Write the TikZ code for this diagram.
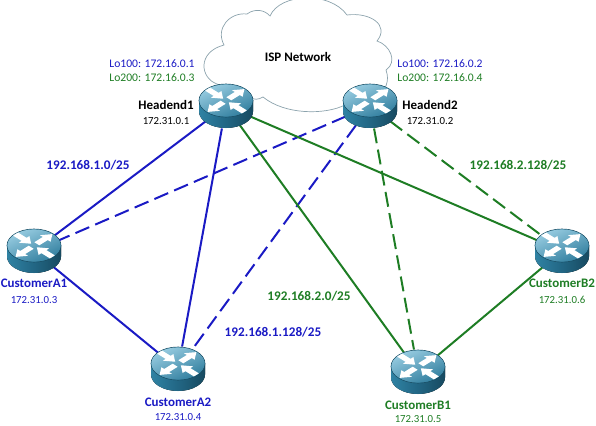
\documentclass[tikz,border=0pt]{standalone}
\usepackage{fontspec}
\setmainfont{Carlito}
\usepackage{xcolor}
\usetikzlibrary{positioning,shapes.geometric}
\definecolor{linkblue}{HTML}{1A1AC4}
\definecolor{linkgreen}{HTML}{1E7D24}
\definecolor{cloudline}{HTML}{8CA3AD}
\definecolor{routerbodyl}{HTML}{2F82A3}
\definecolor{routerbodym}{HTML}{226684}
\definecolor{routerbodyr}{HTML}{174A60}
\definecolor{routertopl}{HTML}{96CBE0}
\definecolor{routertopd}{HTML}{327F9F}
\tikzset{
  routernode/.style={ellipse,minimum width=54pt,minimum height=45pt,inner sep=0pt},
  bluelink/.style={draw=linkblue,line width=2pt},
  greenlink/.style={draw=linkgreen,line width=2pt},
  tunnel/.style={dash pattern=on 15pt off 6.5pt},
  namelabel/.style={font=\fontsize{13}{15}\selectfont\bfseries},
  addrlabel/.style={font=\fontsize{10.8}{12}\selectfont},
  looplabel/.style={font=\fontsize{11.6}{13}\selectfont},
  netlabel/.style={font=\fontsize{13.2}{15}\selectfont\bfseries},
  router/.pic={
    \fill[left color=routerbodyl,right color=routerbodyr,middle color=routerbodym]
      (-27,-5.5) -- (-27,5.5) .. controls (-27,14.6) and (-15,22) .. (0,22)
      .. controls (15,22) and (27,14.6) .. (27,5.5) -- (27,-5.5) -- cycle;
    \draw[routerbodyr,line width=0.6pt,fill=routertopd] (0,-5.5) ellipse[x radius=27,y radius=16.5];
    \shade[top color=routertopl,bottom color=routertopd,shading angle=25]
      (0,-5.5) ellipse[x radius=26.6,y radius=16.1];
    \foreach \ang/\dir in {45/1,135/-1,225/1,315/-1}{
      \begin{scope}[shift={(0,-5.5)},yscale=0.62,rotate=\ang]
        \ifnum\dir=1
          \fill[white] (4,-3.5) -- (16,-3.5) -- (16,-7.5) -- (26,0) -- (16,7.5) -- (16,3.5) -- (4,3.5) -- cycle;
        \else
          \fill[white] (26,-3.5) -- (14,-3.5) -- (14,-7.5) -- (4,0) -- (14,7.5) -- (14,3.5) -- (26,3.5) -- cycle;
        \fi
      \end{scope}
    }
  }
}
\begin{document}
\begin{tikzpicture}[x=1pt,y=-1pt]
  \useasboundingbox (0,0) rectangle (596,425);
  % cloud
  \draw[cloudline,fill=white,line width=0.7pt] (217,84) .. controls (200,78) and (197,52) .. (224,45)
    .. controls (215,28) and (230,12) .. (247,14)
    .. controls (255,8) and (265,10) .. (270,16)
    .. controls (280,-7) and (330,-9) .. (347,15)
    .. controls (370,12) and (390,25) .. (377,41)
    .. controls (390,45) and (398,62) .. (386,70)
    .. controls (388,76) and (388,80) .. (386,86)
    -- (345,105)
    .. controls (325,115) and (285,115) .. (263,97)
    .. controls (258,100) and (254,100) .. (250,97)
    -- cycle;
  \node[namelabel] (isp) at (298,57) {ISP Network};
  % routers
  \node[routernode] (h1) at (226,106) {};
  \node[routernode] (h2) at (370,106) {};
  \node[routernode] (a1) at (34,251) {};
  \node[routernode] (a2) at (178,369) {};
  \node[routernode] (b1) at (418,372) {};
  \node[routernode] (b2) at (562,251) {};
  % links
  \draw[bluelink] (h1) -- (a1);
  \draw[bluelink] (h1) -- (a2);
  \draw[bluelink] (a1) -- (a2);
  \draw[bluelink,tunnel] (h2) -- (a1);
  \draw[bluelink,tunnel] (h2) -- (a2);
  \draw[greenlink] (h1) -- (b1);
  \draw[greenlink] (h1) -- (b2);
  \draw[greenlink] (b1) -- (b2);
  \draw[greenlink,tunnel] (h2) -- (b1);
  \draw[greenlink,tunnel] (h2) -- (b2);
  \pic at (h1) {router};
  \pic at (h2) {router};
  \pic at (a1) {router};
  \pic at (a2) {router};
  \pic at (b1) {router};
  \pic at (b2) {router};
  % labels
  \node[looplabel,text=linkblue] (lo1a) at (152,64) {Lo100: 172.16.0.1};
  \node[looplabel,text=linkgreen] (lo1b) at (152,78) {Lo200: 172.16.0.3};
  \node[looplabel,text=linkblue] (lo2a) at (440,64) {Lo100: 172.16.0.2};
  \node[looplabel,text=linkgreen] (lo2b) at (440,78) {Lo200: 172.16.0.4};
  \node[namelabel] (h1name) at (166,105) {Headend1};
  \node[addrlabel] (h1addr) at (166,121) {172.31.0.1};
  \node[namelabel] (h2name) at (430,105) {Headend2};
  \node[addrlabel] (h2addr) at (430,121) {172.31.0.2};
  \node[namelabel,text=linkblue] (a1name) at (34,283) {CustomerA1};
  \node[addrlabel,text=linkblue] (a1addr) at (34,300) {172.31.0.3};
  \node[namelabel,text=linkblue] (a2name) at (178,402) {CustomerA2};
  \node[addrlabel,text=linkblue] (a2addr) at (178,417) {172.31.0.4};
  \node[namelabel,text=linkgreen] (b1name) at (418,405) {CustomerB1};
  \node[addrlabel,text=linkgreen,inner sep=1pt] (b1addr) at (418,419) {172.31.0.5};
  \node[namelabel,text=linkgreen] (b2name) at (562,283) {CustomerB2};
  \node[addrlabel,text=linkgreen] (b2addr) at (562,300) {172.31.0.6};
  \node[netlabel,text=linkblue] (net1) at (88,165) {192.168.1.0/25};
  \node[netlabel,text=linkblue] (net2) at (273,332) {192.168.1.128/25};
  \node[netlabel,text=linkgreen] (net3) at (309,296) {192.168.2.0/25};
  \node[netlabel,text=linkgreen] (net4) at (518,165) {192.168.2.128/25};
\end{tikzpicture}
\end{document}
